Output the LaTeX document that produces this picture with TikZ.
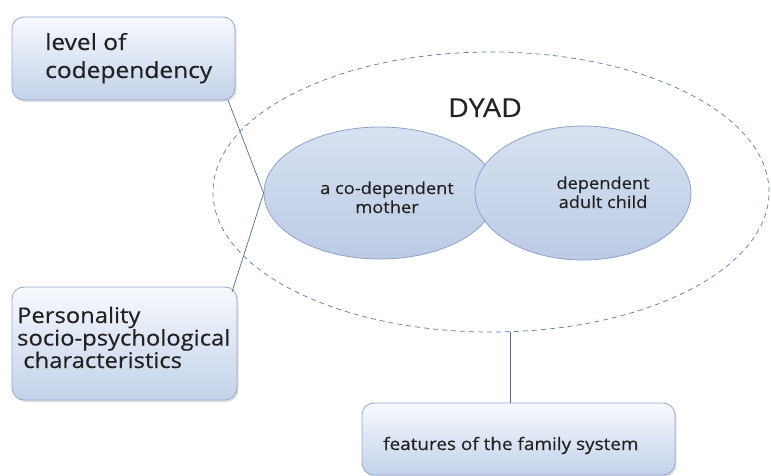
\documentclass[tikz,border=0pt]{standalone}
\usepackage{fontspec}
\setmainfont{Open Sans}[FakeStretch=1.1,FakeBold=0.4]
\usetikzlibrary{shadows,shapes.geometric}
\definecolor{boxtop}{HTML}{F7F9FD}
\definecolor{boxbot}{HTML}{C3D2EA}
\definecolor{boxedge}{HTML}{93A9CD}
\definecolor{elltop}{HTML}{D7E1F1}
\definecolor{ellbot}{HTML}{BCCBE5}
\definecolor{elledge}{HTML}{8CA2C6}
\definecolor{linecol}{HTML}{4F6E9C}
\definecolor{dashcol}{HTML}{5B79A6}
\definecolor{txt}{HTML}{222222}
\begin{document}
\begin{tikzpicture}[x=1pt,y=-1pt,
  infobox/.style={draw=boxedge, line width=0.8pt, rounded corners=12pt,
    top color=boxtop, bottom color=boxbot, drop shadow={opacity=0.25, shadow xshift=1.5pt, shadow yshift=-2pt}},
  person/.style={ellipse, draw=elledge, line width=0.8pt, top color=elltop, bottom color=ellbot, inner sep=0pt},
  label/.style={inner sep=0pt, text=txt, anchor=base west, align=left},
  conn/.style={draw=linecol, line width=0.7pt}]
\useasboundingbox (0,0) rectangle (771,476);
% dashed dyad ellipse
\node[ellipse, draw=dashcol, line width=0.7pt, dash pattern=on 5pt off 4pt, minimum width=556pt, minimum height=280pt, inner sep=0pt] (ring) at (491,192) {};
\node[inner sep=0pt, text=txt, font=\fontsize{26}{30}\selectfont, anchor=base] (dyad) at (485,117) {DYAD};
% boxes
\path[infobox] (12,17) rectangle (235,100);
\node[label, font=\fontsize{22.3}{28}\selectfont] (b1) at (45,78) {level of\\codependency};
\path[infobox] (12,287) rectangle (237,400);
\node[label, font=\fontsize{21.6}{22.5}\selectfont] (b2) at (17,368) {Personality\\socio-psychological\\\ characteristics};
\path[infobox] (362,403) rectangle (675,475);
\node[label, font=\fontsize{17.2}{20}\selectfont] (b3) at (383,450) {features of the family system};
% persons
\node[person, minimum width=232pt, minimum height=132pt] (mother) at (380,193) {};
\node[label, anchor=base, align=center, font=\fontsize{16.6}{19}\selectfont] (mothertxt) at (387,213) {a co-dependent\\mother};
\node[person, minimum width=216pt, minimum height=134pt] (child) at (583,193) {};
\node[label, anchor=base, align=center, font=\fontsize{16.6}{19}\selectfont] (childtxt) at (603,208) {dependent\\adult child};
% connector anchors
\coordinate (b1c) at (228,100);
\coordinate (b2c) at (232,292);
\coordinate (b3top) at (510,403);
\coordinate (dyadbot) at (510,332);
\draw[conn] (b1c) -- (mother.west);
\draw[conn] (b2c) -- (mother.west);
\draw[conn] (dyadbot) -- (b3top);
\end{tikzpicture}
\end{document}
